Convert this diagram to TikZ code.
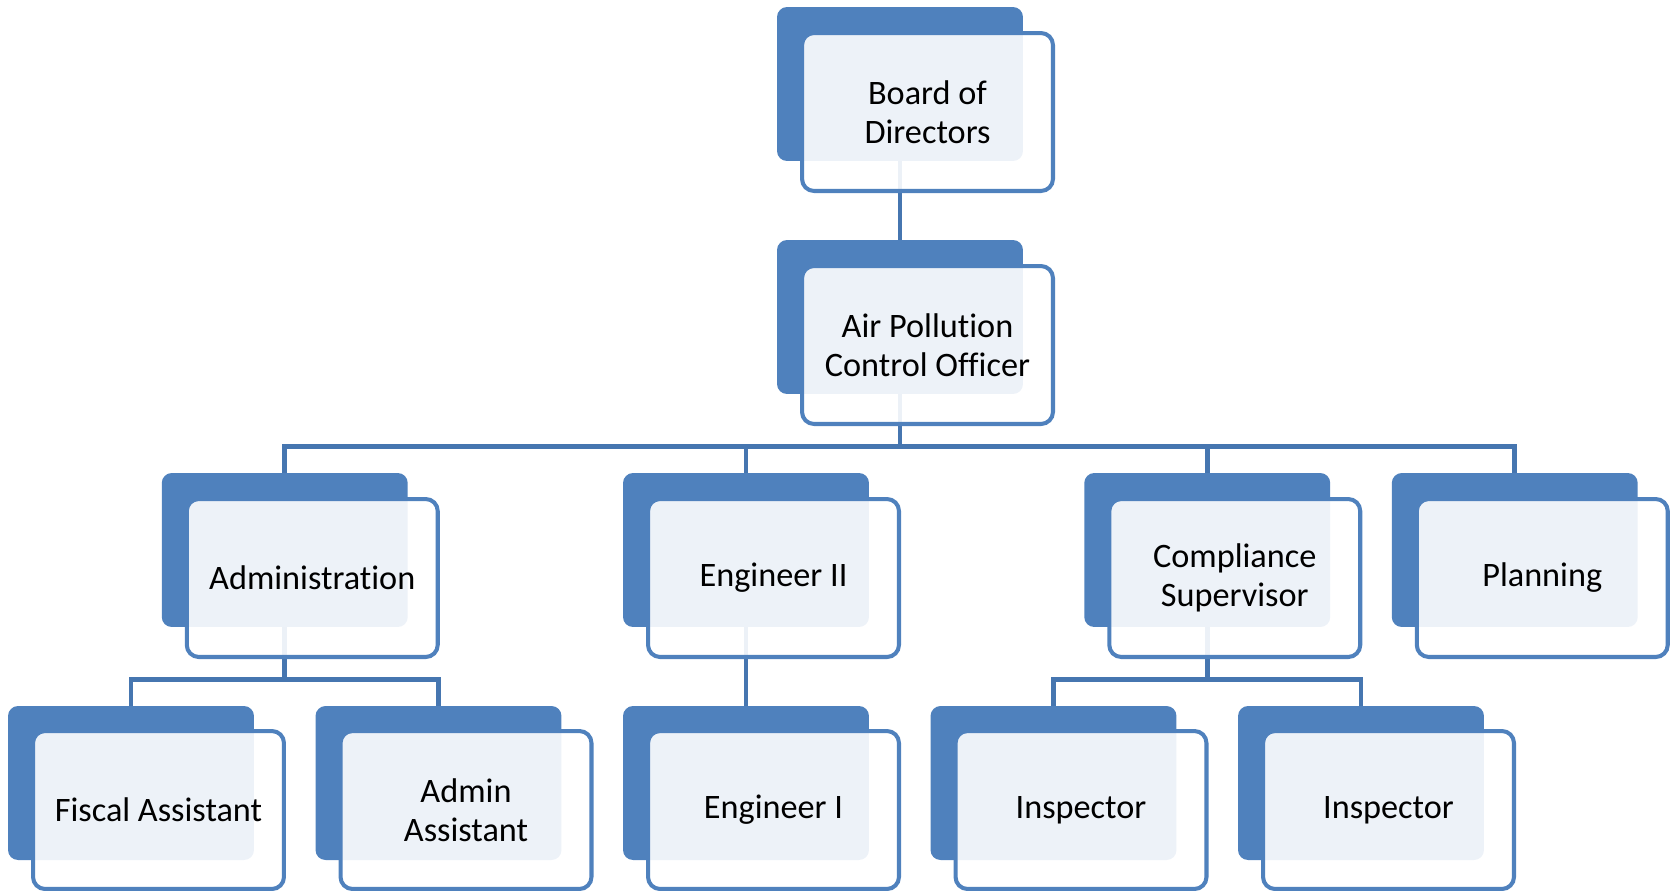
\documentclass[tikz,border=0pt]{standalone}
\usepackage{fontspec}
\setmainfont{Carlito}[Ligatures=NoCommon]
\usetikzlibrary{backgrounds}
\definecolor{azulOrg}{HTML}{4F81BD}
\definecolor{azulLinea}{HTML}{4676B0}

\begin{document}
\begin{tikzpicture}[
    x=0.02cm, y=-0.02cm,
    every node/.style={font=\fontsize{19.5pt}{22pt}\selectfont},
    fondo/.style={fill=azulOrg, rounded corners=0.2cm, minimum width=4.92cm, minimum height=3.08cm, inner sep=0pt},
    caja/.style={draw=azulOrg, line width=2.3pt, fill=white, fill opacity=0.9, text opacity=1, rounded corners=0.24cm, minimum width=5.02cm, minimum height=3.16cm, align=center, inner sep=0pt},
    conector/.style={draw=azulLinea, line width=2.8pt}
]
\useasboundingbox (0,0) rectangle (1676,890);
% Direccion
\node[fondo] (boardB) at (900,84) {};
\node[caja] (board) at (927.5,112) {Board of\\Directors};
\node[fondo] (oficialB) at (900,317) {};
\node[caja] (oficial) at (927.5,345) {Air Pollution\\Control Officer};
% Areas
\node[fondo] (adminB) at (284.75,550) {};
\node[caja] (admin) at (312.25,578) {Administration};
\node[fondo] (engIIB) at (746,550) {};
\node[caja] (engII) at (773.5,578) {Engineer II};
\node[fondo] (complianceB) at (1207.25,550) {};
\node[caja] (compliance) at (1234.75,578) {Compliance\\Supervisor};
\node[fondo] (planningB) at (1514.75,550) {};
\node[caja] (planning) at (1542.25,578) {Planning};
% Personal
\node[fondo] (fiscalB) at (131,783) {};
\node[caja] (fiscal) at (158.5,810) {Fiscal Assistant};
\node[fondo] (adminAsstB) at (438.5,783) {};
\node[caja] (adminAsst) at (466,810) {Admin\\Assistant};
\node[fondo] (engIB) at (746,783) {};
\node[caja] (engI) at (773.5,810) {Engineer I};
\node[fondo] (inspectorAB) at (1053.5,783) {};
\node[caja] (inspectorA) at (1081,810) {Inspector};
\node[fondo] (inspectorBB) at (1361,783) {};
\node[caja] (inspectorB) at (1388.5,810) {Inspector};
% Aristas
\begin{scope}[on background layer]
\draw[conector] (boardB.south) -- (oficialB.north);
\draw[conector] (oficialB.south) -- ++(0,52) -| (adminB.north);
\draw[conector] (oficialB.south) -- ++(0,52) -| (engIIB.north);
\draw[conector] (oficialB.south) -- ++(0,52) -| (complianceB.north);
\draw[conector] (oficialB.south) -- ++(0,52) -| (planningB.north);
\draw[conector] (adminB.south) -- ++(0,52) -| (fiscalB.north);
\draw[conector] (adminB.south) -- ++(0,52) -| (adminAsstB.north);
\draw[conector] (engIIB.south) -- (engIB.north);
\draw[conector] (complianceB.south) -- ++(0,52) -| (inspectorAB.north);
\draw[conector] (complianceB.south) -- ++(0,52) -| (inspectorBB.north);
\end{scope}
\end{tikzpicture}
\end{document}
